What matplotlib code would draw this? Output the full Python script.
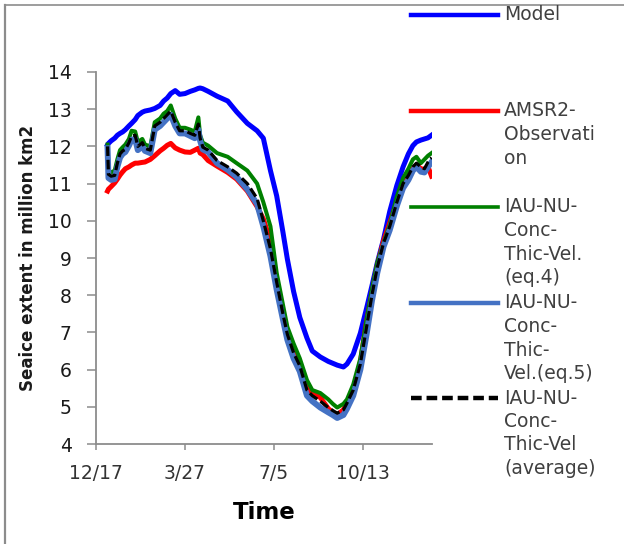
import matplotlib
matplotlib.use("Agg")
import matplotlib.pyplot as plt
import matplotlib.dates as mdates
from matplotlib.lines import Line2D
from matplotlib.ticker import FuncFormatter, MultipleLocator
import pandas as pd

# days after 12/17 (axis start)
days = [13, 14, 17, 21, 24, 27, 30, 33, 37, 40,
        44, 47, 52, 55, 61, 66, 72, 76, 80, 84,
        89, 94, 100, 106, 111, 115, 117, 120, 126, 136,
        148, 158, 170, 181, 188, 196, 203, 210, 215, 222,
        229, 237, 243, 252, 261, 266, 271, 278, 282, 289,
        293, 297, 304, 310, 316, 323, 330, 338, 345, 351,
        356, 360, 365, 369, 373, 377]

model = [12.04, 12.08, 12.15, 12.22, 12.3, 12.35, 12.39, 12.45, 12.55, 12.62,
         12.72, 12.83, 12.92, 12.95, 12.98, 13.02, 13.1, 13.22, 13.3, 13.42,
         13.5, 13.4, 13.42, 13.48, 13.52, 13.56, 13.57, 13.55, 13.48, 13.35,
         13.22, 12.93, 12.62, 12.42, 12.22, 11.35, 10.67, 9.7, 8.97, 8.1,
         7.4, 6.85, 6.5, 6.34, 6.22, 6.17, 6.12, 6.07, 6.15, 6.42,
         6.7, 6.98, 7.65, 8.25, 8.87, 9.5, 10.25, 10.95, 11.45, 11.8,
         12.02, 12.12, 12.17, 12.2, 12.23, 12.3]

amsr2 = [10.8, 10.85, 10.92, 11.02, 11.12, 11.23, 11.32, 11.4, 11.45, 11.5,
         11.55, 11.55, 11.57, 11.58, 11.65, 11.75, 11.88, 11.95, 12.03, 12.08,
         11.96, 11.9, 11.85, 11.84, 11.9, 11.95, 11.82, 11.78, 11.62, 11.47,
         11.3, 11.12, 10.8, 10.38, 10.05, 9.45, 8.35, 7.5, 6.95, 6.5,
         6.15, 5.5, 5.38, 5.25, 4.95, 4.85, 4.78, 4.92, 5.1, 5.45,
         5.8, 6.2, 7.3, 8.05, 8.8, 9.45, 9.95, 10.5, 11.0, 11.2,
         11.4, 11.5, 11.4, 11.38, 11.45, 11.2]

eq4 = [12.05, 11.35, 11.3, 11.35, 11.65, 11.9, 11.98, 12.05, 12.2, 12.42,
       12.4, 12.12, 12.2, 12.05, 12.0, 12.65, 12.75, 12.88, 12.95, 13.1,
       12.75, 12.5, 12.5, 12.45, 12.4, 12.78, 12.3, 12.1, 12.02, 11.82,
       11.72, 11.55, 11.35, 11.0, 10.5, 9.85, 8.6, 7.75, 7.15, 6.7,
       6.3, 5.72, 5.45, 5.37, 5.2, 5.08, 4.98, 5.08, 5.2, 5.6,
       5.95, 6.3, 7.35, 8.15, 8.87, 9.4, 9.9, 10.65, 11.15, 11.4,
       11.65, 11.72, 11.55, 11.65, 11.75, 11.82]

eq5 = [11.95, 11.15, 11.1, 11.12, 11.45, 11.7, 11.8, 11.85, 12.02, 12.18,
       12.2, 11.9, 12.0, 11.88, 11.82, 12.45, 12.55, 12.65, 12.75, 12.85,
       12.55, 12.35, 12.35, 12.28, 12.22, 12.45, 12.15, 11.92, 11.85, 11.55,
       11.37, 11.18, 10.85, 10.45, 9.85, 9.05, 8.15, 7.35, 6.8, 6.3,
       5.95, 5.3, 5.15, 4.98, 4.85, 4.78, 4.7, 4.78, 4.95, 5.3,
       5.65, 6.0, 6.95, 7.85, 8.6, 9.3, 9.75, 10.4, 10.88, 11.1,
       11.35, 11.45, 11.32, 11.3, 11.45, 11.58]

average = [12.0, 11.25, 11.2, 11.22, 11.55, 11.8, 11.88, 11.92, 12.1, 12.28,
           12.3, 12.0, 12.1, 11.95, 11.9, 12.55, 12.65, 12.75, 12.85, 12.95,
           12.65, 12.42, 12.42, 12.35, 12.3, 12.6, 12.22, 11.98, 11.9, 11.62,
           11.45, 11.28, 11.0, 10.6, 10.0, 9.25, 8.35, 7.5, 6.95, 6.45,
           6.1, 5.45, 5.3, 5.15, 4.98, 4.9, 4.83, 4.92, 5.1, 5.45,
           5.8, 6.15, 7.15, 8.0, 8.75, 9.4, 9.85, 10.5, 11.0, 11.22,
           11.45, 11.55, 11.45, 11.4, 11.58, 11.7]

labels = [["Model"],
          ["AMSR2-", "Observati", "on"],
          ["IAU-NU-", "Conc-", "Thic-Vel.", "(eq.4)"],
          ["IAU-NU-", "Conc-", "Thic-", "Vel.(eq.5)"],
          ["IAU-NU-", "Conc-", "Thic-Vel", "(average)"]]

start = pd.Timestamp("2013-12-17")
tick_days = [0, 100, 200, 300]
x = start + pd.to_timedelta(days, unit="D")

W, H = 624, 544
fig = plt.figure(figsize=(W / 100, H / 100), dpi=100)
ax = fig.add_axes([96 / W, 100 / H, 336 / W, 372 / H])

styles = [
    dict(color="#0000FF", lw=3.6, ls="-"),
    dict(color="#FF0000", lw=3.6, ls="-"),
    dict(color="#008000", lw=2.9, ls="-"),
    dict(color="#4472C4", lw=4.3, ls="-"),
    dict(color="black", lw=2.3, ls=(0, (3, 1.2))),
]
series = [model, amsr2, eq4, eq5, average]
for vals, st in zip(series, styles):
    ax.plot(x, vals, color=st["color"], lw=st["lw"], ls=st["ls"],
            solid_joinstyle="round")

ax.set_xlim(start, start + pd.Timedelta(days=377.5))
ax.set_ylim(4, 14)
ax.yaxis.set_major_locator(MultipleLocator(1))
ax.set_xticks(start + pd.to_timedelta(tick_days, unit="D"))


def fmt_date(v, pos):
    d = mdates.num2date(v)
    return f"{d.month}/{d.day}"


ax.xaxis.set_major_formatter(FuncFormatter(fmt_date))

for side in ["top", "right"]:
    ax.spines[side].set_visible(False)
for side in ["left", "bottom"]:
    ax.spines[side].set_color("#8c8c8c")
    ax.spines[side].set_linewidth(1.3)
ax.tick_params(axis="y", direction="out", length=6.5, width=1.1,
               color="#8c8c8c", labelsize=13.5, labelcolor="#1a1a1a", pad=11)
ax.tick_params(axis="x", direction="out", length=4.5, width=1.1,
               color="#8c8c8c", labelsize=13.5, labelcolor="#333333", pad=10)

ax.set_ylabel("Seaice extent in million km2", fontsize=12, fontweight="bold",
              color="#1a1a1a")
ax.yaxis.set_label_coords(-0.176, 0.5)
ax.set_xlabel("Time", fontsize=16.5, fontweight="bold", color="black")
ax.xaxis.set_label_coords(0.5, -0.152)

# legend drawn by hand, laid out like the spreadsheet original
entry_y = [15, 111, 207, 303, 398]
for lines, st, y0 in zip(labels, styles, entry_y):
    fig.add_artist(Line2D([411 / W, 498 / W], [1 - y0 / H, 1 - y0 / H],
                          color=st["color"], lw=3.2 if st["color"] != "#008000" else 2.6,
                          ls=st["ls"] if st["color"] != "black" else (0, (2.4, 1.1))))
    for i, txt in enumerate(lines):
        fig.text(504 / W, 1 - (y0 + 23.5 * i) / H, txt, ha="left", va="center",
                 fontsize=13.5, color="#404040")

# chart-area border (left and top only visible)
fig.add_artist(Line2D([5 / W, 5 / W], [0, 1 - 5 / H], color="#8c8c8c", lw=1.6))
fig.add_artist(Line2D([5 / W, 1], [1 - 5 / H, 1 - 5 / H], color="#8c8c8c", lw=1.2))

fig.savefig("out.png", dpi=100)
